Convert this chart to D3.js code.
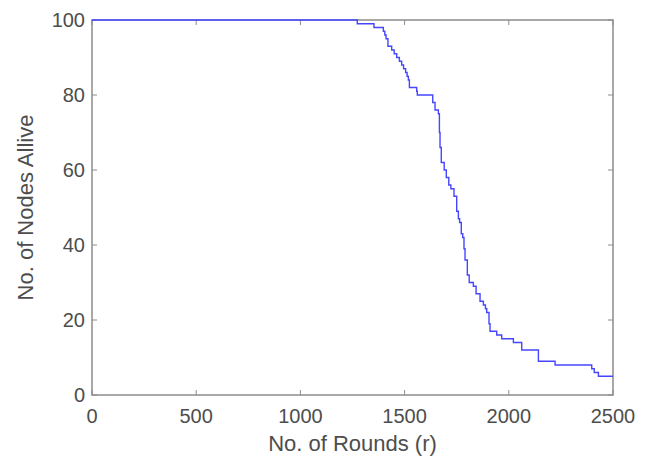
<!DOCTYPE html>
<html>
<head>
<meta charset="utf-8">
<script src="https://cdn.jsdelivr.net/npm/d3@7"></script>
<style>
body{margin:0;background:#fff;}
text{font-family:"Liberation Sans",Arial,sans-serif;fill:#4d4d4d;}
</style>
</head>
<body>
<script>
// rounds at which the alive count changes, and the count from then on
var rounds=[0,1273,1353,1398,1405,1411,1420,1438,1450,1462,1475,1486,1495,1505,1512,1518,1523,1558,1561,1635,1646,1662,1667,1670,1676,1690,1700,1712,1722,1737,1750,1758,1764,1772,1779,1785,1790,1801,1810,1830,1843,1862,1878,1888,1894,1905,1910,1942,1966,2022,2062,2142,2222,2398,2410,2430,2500];
var alive=[100,99,98,97,96,95,93,92,91,90,89,88,87,86,85,84,82,81,80,78,76,75,70,66,62,60,58,56,55,53,49,47,46,43,42,39,36,32,30,29,27,25,24,23,22,19,17,16,15,14,12,9,8,7,6,5,5];
var xTicks=[0,500,1000,1500,2000,2500];
var yTicks=[0,20,40,60,80,100];

var W=655,H=459;
var m={left:92,right:42,top:20,bottom:64};

var svg=d3.select("body").append("svg")
  .attr("width",W).attr("height",H);

var x=d3.scaleLinear().domain([0,2500]).range([m.left,W-m.right]);
var y=d3.scaleLinear().domain([0,100]).range([H-m.bottom,m.top]);

var data=rounds.map(function(r,i){return {r:r,a:alive[i]};});

// box
svg.append("rect")
  .attr("x",x(0)).attr("y",y(100))
  .attr("width",x(2500)-x(0)).attr("height",y(0)-y(100))
  .attr("fill","none").attr("stroke","#8c8c8c").attr("stroke-width",1.5);

// ticks inward on all four sides
var tickLen=5;
svg.selectAll(".xtb").data(xTicks).enter().append("line")
  .attr("x1",function(d){return x(d)}).attr("x2",function(d){return x(d)})
  .attr("y1",y(0)).attr("y2",y(0)-tickLen)
  .attr("stroke","#8c8c8c");
svg.selectAll(".xtt").data(xTicks).enter().append("line")
  .attr("x1",function(d){return x(d)}).attr("x2",function(d){return x(d)})
  .attr("y1",y(100)).attr("y2",y(100)+tickLen)
  .attr("stroke","#8c8c8c");
svg.selectAll(".ytl").data(yTicks).enter().append("line")
  .attr("y1",function(d){return y(d)}).attr("y2",function(d){return y(d)})
  .attr("x1",x(0)).attr("x2",x(0)+tickLen)
  .attr("stroke","#8c8c8c");
svg.selectAll(".ytr").data(yTicks).enter().append("line")
  .attr("y1",function(d){return y(d)}).attr("y2",function(d){return y(d)})
  .attr("x1",x(2500)).attr("x2",x(2500)-tickLen)
  .attr("stroke","#8c8c8c");

// tick labels
svg.selectAll(".xl").data(xTicks).enter().append("text")
  .attr("x",function(d){return x(d)})
  .attr("y",y(0)+28)
  .attr("text-anchor","middle")
  .style("font-size","20px")
  .text(function(d){return d});
svg.selectAll(".yl").data(yTicks).enter().append("text")
  .attr("x",x(0)-7)
  .attr("y",function(d){return y(d)+7})
  .attr("text-anchor","end")
  .style("font-size","20px")
  .text(function(d){return d});

// axis titles
svg.append("text")
  .attr("x",(x(0)+x(2500))/2).attr("y",451)
  .attr("text-anchor","middle")
  .style("font-size","22px")
  .text("No. of Rounds (r)");
svg.append("text")
  .attr("transform","translate(33,"+((y(0)+y(100))/2)+") rotate(-90)")
  .attr("text-anchor","middle")
  .style("font-size","22px")
  .text("No. of Nodes Allive");

// curve
var line=d3.line()
  .x(function(d){return x(d.r)})
  .y(function(d){return y(d.a)})
  .curve(d3.curveStepAfter);
svg.append("path")
  .datum(data)
  .attr("d",line)
  .attr("fill","none")
  .attr("stroke","#4646ff")
  .attr("stroke-width",1.4);
</script>
</body>
</html>
